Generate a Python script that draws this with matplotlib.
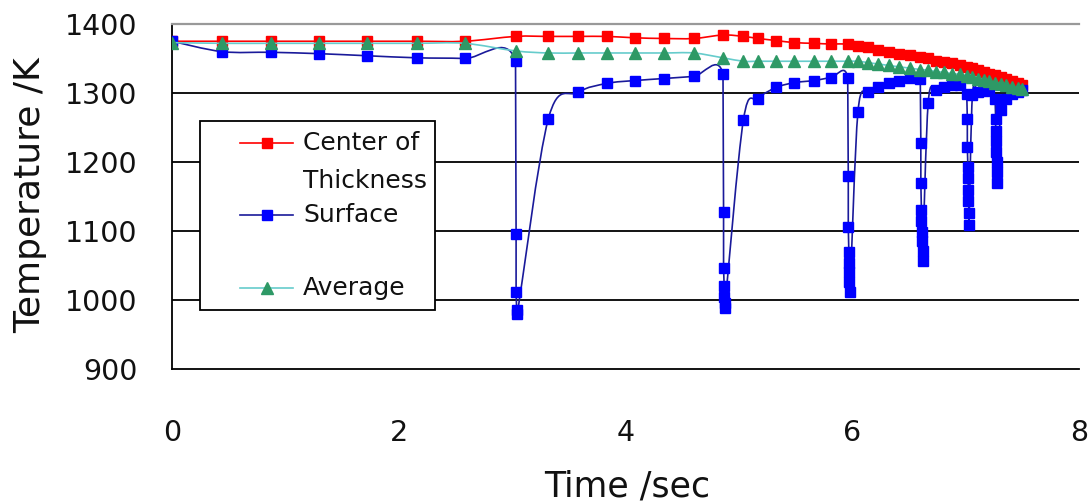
import numpy as np
import matplotlib
matplotlib.use('Agg')
from matplotlib import pyplot as plt
from matplotlib.path import Path
from matplotlib.patches import PathPatch, Rectangle
from matplotlib.lines import Line2D

# time points shared by center and average series (sec)
t_main = [0.00, 0.44, 0.87, 1.30, 1.72, 2.16, 2.58, 3.03, 3.32, 3.58, 3.84, 4.08,
          4.34, 4.60, 4.86, 5.04, 5.17, 5.33, 5.49, 5.66, 5.81, 5.96, 6.05, 6.14,
          6.23, 6.32, 6.41, 6.51, 6.60, 6.67, 6.74, 6.81, 6.88, 6.95, 7.01, 7.06,
          7.11, 7.16, 7.21, 7.26, 7.31, 7.36, 7.41, 7.46, 7.50]

temp_center = [1375, 1375, 1375, 1375, 1375, 1375, 1375, 1382, 1382, 1382, 1382, 1380,
               1379, 1379, 1384, 1382, 1379, 1376, 1373, 1372, 1371, 1371, 1368, 1366,
               1363, 1360, 1357, 1355, 1352, 1350, 1347, 1345, 1343, 1340, 1338, 1336,
               1333, 1331, 1328, 1326, 1323, 1320, 1318, 1315, 1312]

temp_average = [1373, 1372, 1372, 1372, 1372, 1372, 1372, 1361, 1358, 1358, 1358, 1358,
                1358, 1358, 1351, 1346, 1346, 1346, 1346, 1346, 1346, 1346, 1346, 1344,
                1342, 1340, 1338, 1336, 1334, 1333, 1331, 1330, 1328, 1327, 1325, 1323,
                1321, 1319, 1317, 1315, 1313, 1311, 1309, 1307, 1306]

# surface series has extra points during each spray (quench) event
t_surface = [0.00, 0.44, 0.87, 1.30, 1.72, 2.16, 2.58, 3.03,
             3.035, 3.035, 3.04, 3.045,
             3.32, 3.58, 3.84, 4.08, 4.34, 4.60, 4.86,
             4.865, 4.865, 4.87, 4.87, 4.875, 4.875,
             5.04, 5.17, 5.33, 5.49, 5.66, 5.81, 5.96,
             5.965, 5.965, 5.97, 5.97, 5.975, 5.975, 5.98,
             6.05, 6.14, 6.23, 6.32, 6.41, 6.51, 6.60,
             6.605, 6.605, 6.61, 6.61, 6.615, 6.615, 6.62, 6.62,
             6.67, 6.74, 6.81, 6.88, 6.95, 7.01,
             7.015, 7.015, 7.02, 7.02, 7.025, 7.025, 7.03, 7.03,
             7.06, 7.11, 7.16, 7.21, 7.26,
             7.265, 7.265, 7.27, 7.27, 7.275, 7.275, 7.28,
             7.31, 7.36, 7.41, 7.46, 7.50]

temp_surface = [1375, 1360, 1359, 1357, 1354, 1351, 1350, 1346,
                1095, 1011, 986, 979,
                1263, 1301, 1314, 1318, 1321, 1324, 1327,
                1128, 1047, 1020, 1005, 995, 988,
                1261, 1292, 1308, 1315, 1318, 1322, 1322,
                1179, 1106, 1069, 1054, 1040, 1026, 1012,
                1272, 1302, 1309, 1315, 1318, 1322, 1320,
                1228, 1170, 1131, 1114, 1099, 1085, 1071, 1057,
                1286, 1305, 1309, 1311, 1312, 1298,
                1263, 1222, 1193, 1177, 1160, 1143, 1126, 1108,
                1297, 1301, 1303, 1304, 1291,
                1262, 1245, 1230, 1215, 1200, 1185, 1170,
                1275, 1292, 1299, 1302, 1304]

W, H = 1092, 503


def fx(px):
    return px / W


def fy(py):
    return 1 - py / H


def smooth_path(x, y):
    # excel-like smoothed line (catmull-rom as cubic bezier),
    # near-vertical steps are kept straight so they do not overshoot
    pts = np.column_stack([x, y]).astype(float)
    n = len(pts)
    verts = [pts[0]]
    codes = [Path.MOVETO]
    for i in range(n - 1):
        p0 = pts[max(i - 1, 0)]
        p1 = pts[i]
        p2 = pts[i + 1]
        p3 = pts[min(i + 2, n - 1)]
        if abs(p2[0] - p1[0]) < 0.02:
            c1, c2 = p1, p2
        else:
            c1 = p1 + (p2 - p0) / 6
            c2 = p2 - (p3 - p1) / 6
        verts += [c1, c2, p2]
        codes += [Path.CURVE4] * 3
    return Path(verts, codes)


fig = plt.figure(figsize=(W / 100, H / 100), dpi=100)
ax = fig.add_axes([fx(172), fy(369), fx(1079) - fx(172), fy(24) - fy(369)])

red_line, red_mk = '#ff0000', '#ff0000'
blue_line, blue_mk = '#1a1a9a', '#0000ff'
green_line, green_mk = '#66cccc', '#2e9966'

series = [
    (t_main, temp_center, red_line, red_mk, 's', 7.5),
    (t_surface, temp_surface, blue_line, blue_mk, 's', 7.5),
    (t_main, temp_average, green_line, green_mk, '^', 8.5),
]
for k, (tx, ty, lc, mc, mk, ms) in enumerate(series):
    ax.add_patch(PathPatch(smooth_path(tx, ty), facecolor='none', edgecolor=lc,
                           lw=1.2, zorder=3 + 2 * k))
    ax.plot(tx, ty, linestyle='none', marker=mk, ms=ms, color=mc, mec=mc, zorder=4 + 2 * k)

ax.set_xlim(0, 8)
ax.set_ylim(900, 1400)
ax.set_xticks([0, 2, 4, 6, 8])
ax.set_yticks([900, 1000, 1100, 1200, 1300, 1400])
ax.yaxis.grid(True, color='black', lw=1.3)
gl = ax.get_ygridlines()
gl[0].set_visible(False)
gl[-1].set_visible(False)
ax.tick_params(length=0, labelsize=20.5, colors='#111111')
ax.tick_params(axis='x', pad=36)
ax.tick_params(axis='y', pad=25)
for s in ['left', 'bottom']:
    ax.spines[s].set_color('black')
    ax.spines[s].set_linewidth(1.3)
ax.spines['top'].set_color('#999999')
ax.spines['top'].set_linewidth(1.6)
ax.spines['right'].set_visible(False)

fig.text(fx(627), fy(487), 'Time /sec', ha='center', va='center', fontsize=25, color='#111111')
fig.text(fx(30), fy(195), 'Temperature /K', ha='center', va='center', rotation=90,
         fontsize=26, color='#111111')

# legend box drawn by hand to get the excel layout
fig.add_artist(Rectangle((fx(200), fy(310)), fx(435) - fx(200), fy(121) - fy(310),
                         transform=fig.transFigure, facecolor='white', edgecolor='black',
                         lw=1.3, zorder=20))
leg_rows = [
    (143, red_line, red_mk, 's', 7.5, 'Center of\nThickness'),
    (215, blue_line, blue_mk, 's', 7.5, 'Surface'),
    (288, green_line, green_mk, '^', 8.5, 'Average'),
]
for py, lc, mc, mk, ms, label in leg_rows:
    fig.add_artist(Line2D([fx(240), fx(293)], [fy(py), fy(py)], color=lc, lw=1.2,
                          transform=fig.transFigure, zorder=21))
    fig.add_artist(Line2D([fx(267)], [fy(py)], marker=mk, ms=ms, color=mc,
                          transform=fig.transFigure, zorder=22))
    fig.text(fx(303), fy(py - 12), label, ha='left', va='top', fontsize=18,
             color='#111111', linespacing=1.72, zorder=23)

fig.savefig('out.png', dpi=100)
